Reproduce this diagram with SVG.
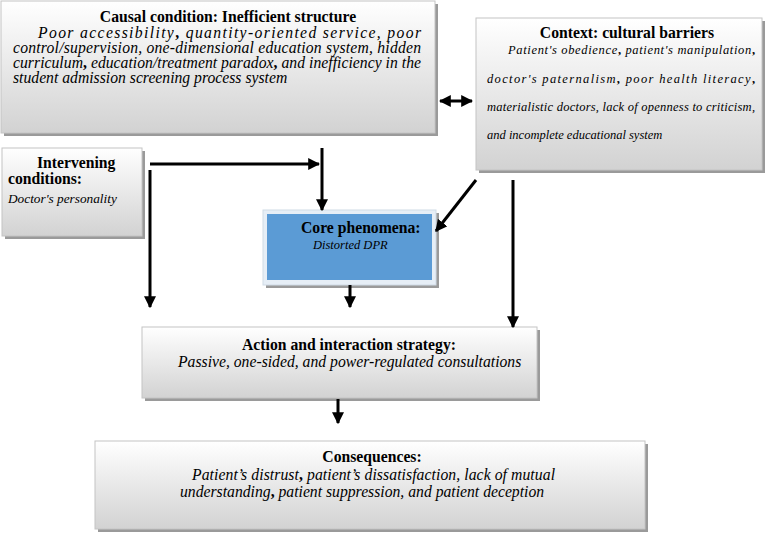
<svg xmlns="http://www.w3.org/2000/svg" width="765" height="533" viewBox="0 0 765 533">
<style>
text{font-family:'Liberation Serif','DejaVu Serif',serif;fill:#000}
.box{fill:url(#g);stroke:#c4c4c4;stroke-width:1}
.sh{fill:#9a9a9a}
.t{font-weight:bold;font-size:15.7px}
.b{font-style:italic;font-size:15.7px}
.s{font-style:italic;font-size:12.5px}
.c{fill:none;stroke:#000;stroke-width:3}
.bc{font-weight:bold;font-style:normal}
</style>
<defs>
<linearGradient id="g" x1="0" y1="0" x2="0" y2="1">
<stop offset="0" stop-color="#ffffff"/>
<stop offset="1" stop-color="#d2d2d2"/>
</linearGradient>
<marker id="ah" viewBox="0 0 10 10" refX="9" refY="5" markerWidth="4" markerHeight="4" orient="auto-start-reverse" markerUnits="strokeWidth">
<path d="M0,0 L10,5 L0,10 z" fill="#000"/>
</marker>
</defs>
<rect width="765" height="533" fill="#fff"/>

<g id="causal">
<rect class="sh" x="4" y="4" width="434" height="132"/>
<rect class="box" x="1" y="1" width="434" height="132"/>
<text class="t" x="228" y="22" text-anchor="middle">Causal condition: Inefficient structure</text>
<text class="b" x="38" y="38" textLength="383" lengthAdjust="spacing">Poor accessibility<tspan class="bc">,</tspan> quantity-oriented service, poor</text>
<text class="b" x="13" y="53" textLength="408" lengthAdjust="spacing">control/supervision, one-dimensional education system, hidden</text>
<text class="b" x="13" y="68" textLength="408" lengthAdjust="spacing">curriculum<tspan class="bc">,</tspan> education/treatment paradox<tspan class="bc">,</tspan> and inefficiency in the</text>
<text class="b" x="13" y="83">student admission screening process system</text>
</g>

<g id="context">
<rect class="sh" x="479" y="21" width="286" height="152"/>
<rect class="box" x="476" y="18" width="286" height="152"/>
<text class="t" x="627" y="38" text-anchor="middle">Context: cultural barriers</text>
<text class="s" x="508" y="54" textLength="247" lengthAdjust="spacing">Patient's obedience<tspan class="bc">,</tspan> patient's manipulation<tspan class="bc">,</tspan></text>
<text class="s" x="487" y="83" textLength="268" lengthAdjust="spacing">doctor's paternalism<tspan class="bc">,</tspan> poor health literacy<tspan class="bc">,</tspan></text>
<text class="s" x="487" y="111" textLength="268" lengthAdjust="spacing">materialistic doctors, lack of openness to criticism,</text>
<text class="s" x="487" y="139">and incomplete educational system</text>
</g>

<g id="intervening">
<rect class="sh" x="5" y="151" width="140" height="88"/>
<rect class="box" x="2" y="148" width="140" height="88"/>
<text class="t" x="37" y="168">Intervening</text>
<text class="t" x="8" y="184">conditions:</text>
<text class="s" x="8" y="203" style="font-size:13.3px">Doctor's personality</text>
</g>

<g id="core">
<rect class="sh" x="266" y="213" width="173" height="75"/>
<rect x="263" y="210" width="173" height="75" fill="#e6eef6" stroke="#d0dbe6" stroke-width="1"/>
<rect x="267" y="214" width="165" height="66" fill="#5b9bd5"/>
<text class="t" x="301" y="233">Core phenomena:</text>
<text class="s" x="313" y="249">Distorted DPR</text>
</g>

<g id="action">
<rect class="sh" x="145" y="330" width="395" height="71"/>
<rect class="box" x="142" y="327" width="395" height="71"/>
<text class="t" x="349" y="350" text-anchor="middle">Action and interaction strategy:</text>
<text class="b" x="178" y="367">Passive, one-sided, and power-regulated consultations</text>
</g>

<g id="consequences">
<rect class="sh" x="98" y="444" width="550" height="88"/>
<rect class="box" x="95" y="441" width="550" height="88"/>
<text class="t" x="372" y="462" text-anchor="middle">Consequences:</text>
<text class="b" x="192" y="480" textLength="363" lengthAdjust="spacing">Patient’s distrust<tspan class="bc">,</tspan> patient’s dissatisfaction, lack of mutual</text>
<text class="b" x="180" y="497">understanding<tspan class="bc">,</tspan> patient suppression, and patient deception</text>
</g>

<g id="connectors">
<line class="c" x1="440" y1="101" x2="472" y2="101" marker-start="url(#ah)" marker-end="url(#ah)"/>
<line class="c" x1="150" y1="164" x2="319" y2="164" marker-end="url(#ah)"/>
<line class="c" x1="322" y1="148" x2="322" y2="210" marker-end="url(#ah)"/>
<line class="c" x1="150" y1="170" x2="150" y2="307" marker-end="url(#ah)"/>
<line class="c" x1="350" y1="285" x2="350" y2="307" marker-end="url(#ah)"/>
<line class="c" x1="476" y1="180" x2="436" y2="231" marker-end="url(#ah)"/>
<line class="c" x1="513" y1="180" x2="513" y2="327" marker-end="url(#ah)"/>
<line class="c" x1="338" y1="399" x2="338" y2="423" marker-end="url(#ah)"/>
</g>
</svg>
